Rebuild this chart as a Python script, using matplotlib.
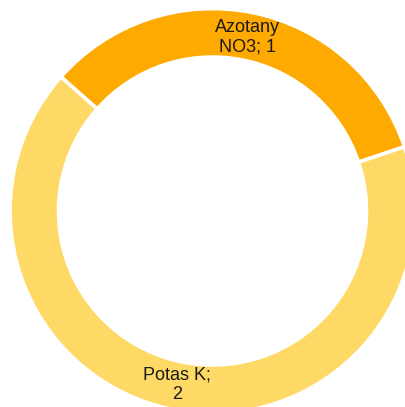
import matplotlib.pyplot as plt
import numpy as np

plt.rcParams['font.family'] = ['Liberation Sans', 'DejaVu Sans']

labels = ['Azotany\nNO3; 1', 'Potas K;\n2']
values = [1, 2]
colors = ['#FFAA00', '#FFD966']

fig = plt.figure(figsize=(4.05, 4.07), dpi=100)
ax = fig.add_axes([0, 0, 1, 1])

R = 201.0
cx, cy = 212.5, 211.0
wedges, _ = ax.pie(values, colors=colors, startangle=138.5, counterclock=False,
                   radius=1.007, center=(0, 0),
                   wedgeprops=dict(width=0.241, edgecolor='white', linewidth=2.6))

# label in the middle of each ring segment
r_mid = 0.883
for w, lab in zip(wedges, labels):
    ang = np.deg2rad((w.theta1 + w.theta2) / 2)
    ax.text(r_mid * np.cos(ang), r_mid * np.sin(ang), lab, ha='center', va='center',
            fontsize=13, linespacing=1.15, color='#1a1a1a')

ax.set_aspect('auto')
ax.set_xlim(-cx / R, (405 - cx) / R)
ax.set_ylim(-(407 - cy) / R, cy / R)
ax.axis('off')

fig.savefig('out.png', dpi=100)
